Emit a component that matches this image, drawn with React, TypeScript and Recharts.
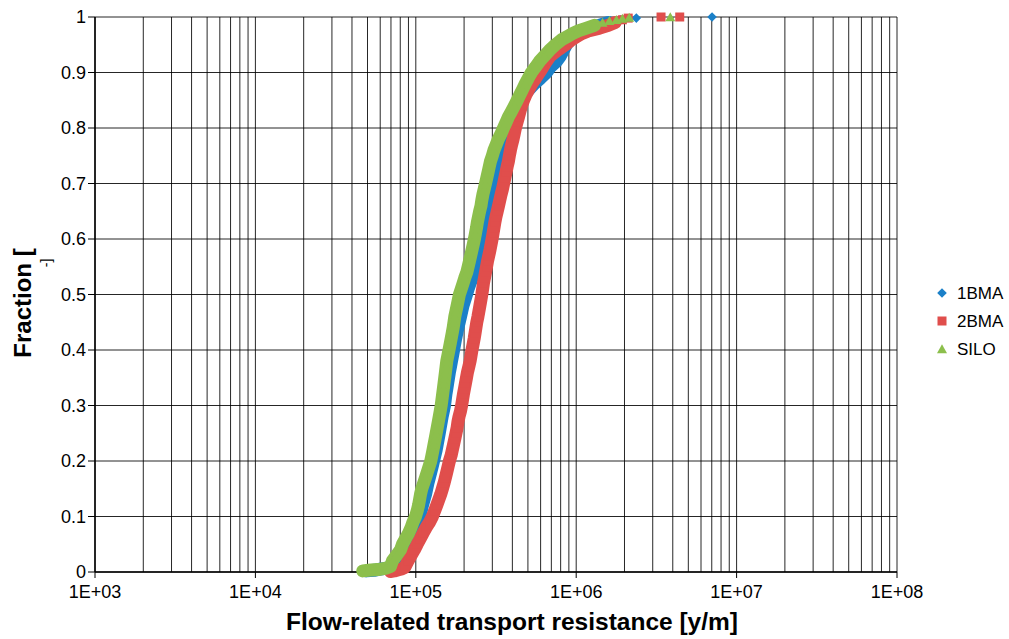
import { ScatterChart, Scatter, XAxis, YAxis, CartesianGrid, Legend, Label } from 'recharts';

// cumulative distributions, [resistance (y/m), fraction]
const BMA1: [number, number][] = [
  [4.92e4, 0.002], [5.5e4, 0.003], [6.0e4, 0.005], [6.6e4, 0.007], [7.15e4, 0.01], [7.58e4, 0.02], [8.03e4, 0.03],
  [8.38e4, 0.04], [8.75e4, 0.05], [9.14e4, 0.06], [9.47e4, 0.07], [9.81e4, 0.08], [1.017e5, 0.09], [1.055e5, 0.1],
  [1.08e5, 0.11], [1.1e5, 0.12], [1.125e5, 0.13], [1.15e5, 0.14], [1.17e5, 0.15], [1.19e5, 0.16], [1.215e5, 0.17],
  [1.24e5, 0.18], [1.265e5, 0.19], [1.29e5, 0.2], [1.315e5, 0.21], [1.34e5, 0.22], [1.36e5, 0.23], [1.38e5, 0.24],
  [1.4e5, 0.25], [1.42e5, 0.26], [1.44e5, 0.27], [1.46e5, 0.28], [1.485e5, 0.29], [1.51e5, 0.3], [1.525e5, 0.31],
  [1.54e5, 0.32], [1.56e5, 0.33], [1.58e5, 0.34], [1.6e5, 0.35], [1.62e5, 0.36], [1.645e5, 0.37], [1.67e5, 0.38],
  [1.695e5, 0.39], [1.72e5, 0.4], [1.745e5, 0.41], [1.77e5, 0.42], [1.8e5, 0.43], [1.83e5, 0.44], [1.865e5, 0.45],
  [1.9e5, 0.46], [1.935e5, 0.47], [1.97e5, 0.48], [2.02e5, 0.49], [2.07e5, 0.5], [2.12e5, 0.51], [2.18e5, 0.52],
  [2.25e5, 0.53], [2.32e5, 0.54], [2.37e5, 0.55], [2.42e5, 0.56], [2.465e5, 0.57], [2.51e5, 0.58], [2.55e5, 0.59],
  [2.59e5, 0.6], [2.625e5, 0.61], [2.66e5, 0.62], [2.71e5, 0.63], [2.76e5, 0.64], [2.8e5, 0.65], [2.84e5, 0.66],
  [2.89e5, 0.67], [2.94e5, 0.68], [3.0e5, 0.69], [3.06e5, 0.7], [3.12e5, 0.71], [3.18e5, 0.72], [3.25e5, 0.73],
  [3.32e5, 0.74], [3.38e5, 0.75], [3.44e5, 0.76], [3.5e5, 0.77], [3.57e5, 0.78], [3.65e5, 0.79], [3.73e5, 0.8],
  [3.84e5, 0.81], [3.95e5, 0.82], [4.09e5, 0.83], [4.24e5, 0.84], [4.48e5, 0.85], [4.75e5, 0.86], [5.1e5, 0.87],
  [5.49e5, 0.88], [6.0e5, 0.89], [6.52e5, 0.9], [6.9e5, 0.91], [7.53e5, 0.92], [7.98e5, 0.93], [8.32e5, 0.94],
  [8.69e5, 0.95], [9.2e5, 0.96], [1.03e6, 0.97], [1.12e6, 0.975], [1.22e6, 0.98], [1.4e6, 0.985], [1.59e6, 0.99],
];
const BMA1_TOP: [number, number][] = [[1.88e6, 0.995], [2.37e6, 0.998], [7.03e6, 1.0]];

const BMA2: [number, number][] = [
  [6.95e4, 0.001], [7.36e4, 0.002], [7.8e4, 0.004], [8.26e4, 0.006], [8.5e4, 0.008], [8.6e4, 0.01], [8.95e4, 0.02],
  [9.35e4, 0.03], [9.8e4, 0.04], [1.02e5, 0.05], [1.065e5, 0.06], [1.11e5, 0.07], [1.16e5, 0.08], [1.22e5, 0.09],
  [1.27e5, 0.1], [1.31e5, 0.11], [1.35e5, 0.12], [1.39e5, 0.13], [1.43e5, 0.14], [1.465e5, 0.15], [1.5e5, 0.16],
  [1.53e5, 0.17], [1.56e5, 0.18], [1.59e5, 0.19], [1.62e5, 0.2], [1.66e5, 0.21], [1.69e5, 0.22], [1.72e5, 0.23],
  [1.75e5, 0.24], [1.78e5, 0.25], [1.81e5, 0.26], [1.83e5, 0.27], [1.86e5, 0.28], [1.9e5, 0.29], [1.93e5, 0.3],
  [1.955e5, 0.31], [1.98e5, 0.32], [2.01e5, 0.33], [2.04e5, 0.34], [2.07e5, 0.35], [2.1e5, 0.36], [2.14e5, 0.37],
  [2.18e5, 0.38], [2.21e5, 0.39], [2.24e5, 0.4], [2.275e5, 0.41], [2.31e5, 0.42], [2.34e5, 0.43], [2.37e5, 0.44],
  [2.4e5, 0.45], [2.44e5, 0.46], [2.475e5, 0.47], [2.51e5, 0.48], [2.545e5, 0.49], [2.58e5, 0.5], [2.61e5, 0.51],
  [2.64e5, 0.52], [2.68e5, 0.53], [2.72e5, 0.54], [2.76e5, 0.55], [2.8e5, 0.56], [2.85e5, 0.57], [2.9e5, 0.58],
  [2.945e5, 0.59], [2.99e5, 0.6], [3.03e5, 0.61], [3.07e5, 0.62], [3.11e5, 0.63], [3.16e5, 0.64], [3.22e5, 0.65],
  [3.28e5, 0.66], [3.34e5, 0.67], [3.4e5, 0.68], [3.47e5, 0.69], [3.53e5, 0.7], [3.59e5, 0.71], [3.65e5, 0.72],
  [3.71e5, 0.73], [3.78e5, 0.74], [3.83e5, 0.75], [3.89e5, 0.76], [3.96e5, 0.77], [4.04e5, 0.78], [4.11e5, 0.79],
  [4.18e5, 0.8], [4.27e5, 0.81], [4.37e5, 0.82], [4.46e5, 0.83], [4.56e5, 0.84], [4.7e5, 0.85], [4.86e5, 0.86],
  [5.07e5, 0.87], [5.3e5, 0.88], [5.6e5, 0.89], [5.9e5, 0.9], [6.2e5, 0.91], [6.52e5, 0.92], [6.9e5, 0.93],
  [7.63e5, 0.94], [8.1e5, 0.945], [8.57e5, 0.95], [9.0e5, 0.955], [9.47e5, 0.96], [1.01e6, 0.965], [1.08e6, 0.97],
  [1.19e6, 0.975], [1.4e6, 0.98], [1.59e6, 0.985], [1.75e6, 0.99],
];
const BMA2_TOP: [number, number][] = [[1.94e6, 0.995], [2.11e6, 0.998], [3.38e6, 1.0], [4.42e6, 1.0]];

const SILO: [number, number][] = [
  [4.67e4, 0.002], [5.07e4, 0.003], [5.53e4, 0.004], [6.03e4, 0.005], [6.56e4, 0.007], [6.95e4, 0.01], [7.15e4, 0.02],
  [7.58e4, 0.03], [8.03e4, 0.04], [8.26e4, 0.05], [8.63e4, 0.06], [9.02e4, 0.07], [9.34e4, 0.08], [9.61e4, 0.09],
  [9.96e4, 0.1], [1.02e5, 0.11], [1.04e5, 0.12], [1.055e5, 0.13], [1.07e5, 0.14], [1.09e5, 0.15], [1.12e5, 0.16],
  [1.15e5, 0.17], [1.18e5, 0.18], [1.21e5, 0.19], [1.24e5, 0.2], [1.26e5, 0.21], [1.28e5, 0.22], [1.3e5, 0.23],
  [1.32e5, 0.24], [1.34e5, 0.25], [1.36e5, 0.26], [1.38e5, 0.27], [1.4e5, 0.28], [1.42e5, 0.29], [1.44e5, 0.3],
  [1.455e5, 0.31], [1.47e5, 0.32], [1.485e5, 0.33], [1.5e5, 0.34], [1.515e5, 0.35], [1.53e5, 0.36], [1.545e5, 0.37],
  [1.56e5, 0.38], [1.585e5, 0.39], [1.61e5, 0.4], [1.635e5, 0.41], [1.66e5, 0.42], [1.685e5, 0.43], [1.71e5, 0.44],
  [1.73e5, 0.45], [1.75e5, 0.46], [1.78e5, 0.47], [1.81e5, 0.48], [1.84e5, 0.49], [1.87e5, 0.5], [1.92e5, 0.51],
  [1.97e5, 0.52], [2.02e5, 0.53], [2.08e5, 0.54], [2.12e5, 0.55], [2.16e5, 0.56], [2.2e5, 0.57], [2.24e5, 0.58],
  [2.28e5, 0.59], [2.32e5, 0.6], [2.355e5, 0.61], [2.39e5, 0.62], [2.42e5, 0.63], [2.46e5, 0.64], [2.5e5, 0.65],
  [2.55e5, 0.66], [2.58e5, 0.67], [2.62e5, 0.68], [2.67e5, 0.69], [2.72e5, 0.7], [2.77e5, 0.71], [2.82e5, 0.72],
  [2.87e5, 0.73], [2.92e5, 0.74], [3.0e5, 0.75], [3.07e5, 0.76], [3.17e5, 0.77], [3.27e5, 0.78], [3.4e5, 0.79],
  [3.52e5, 0.8], [3.65e5, 0.81], [3.78e5, 0.82], [3.95e5, 0.83], [4.12e5, 0.84], [4.29e5, 0.85], [4.46e5, 0.86],
  [4.64e5, 0.87], [4.82e5, 0.88], [5.03e5, 0.89], [5.26e5, 0.9], [5.58e5, 0.91], [5.9e5, 0.92], [6.34e5, 0.93],
  [6.81e5, 0.94], [7.42e5, 0.95], [8.2e5, 0.96], [8.82e5, 0.965], [9.47e5, 0.97], [1.03e6, 0.975], [1.16e6, 0.98],
  [1.3e6, 0.985],
];
const SILO_TOP: [number, number][] = [
  [1.46e6, 0.99], [1.61e6, 0.993], [1.78e6, 0.995], [1.94e6, 0.997], [2.14e6, 0.999], [3.86e6, 1.0],
];

const MAJOR_X = [1e3, 1e4, 1e5, 1e6, 1e7, 1e8];
const MAJOR_X_LABELS = ['1E+03', '1E+04', '1E+05', '1E+06', '1E+07', '1E+08'];
const MINOR_STEPS = [2, 3, 4, 5, 6, 7, 8, 9];
const Y_TICKS = [0, 0.1, 0.2, 0.3, 0.4, 0.5, 0.6, 0.7, 0.8, 0.9, 1];

const BLUE = '#1b80c8';
const RED = '#e04e4c';
const GREEN = '#8cbf4c';
const FONT = '"Liberation Sans", Arial, sans-serif';

const xTicks = MAJOR_X.flatMap((d, i) => (i < MAJOR_X.length - 1 ? [d, ...MINOR_STEPS.map((m) => d * m)] : [d]));
const toPts = (arr: [number, number][]) => arr.map(([x, y]) => ({ x, y }));
// dense marker runs are drawn as a thick band behind the symbols
const band = (color: string) => ({ stroke: color, strokeWidth: 13, strokeLinecap: 'round', strokeLinejoin: 'round' });

const Diamond = ({ cx, cy, fill }: any) => (
  <path d={`M${cx},${cy - 4.8}L${cx + 4.8},${cy}L${cx},${cy + 4.8}L${cx - 4.8},${cy}Z`} fill={fill} />
);
const Square = ({ cx, cy, fill }: any) => <rect x={cx - 4.5} y={cy - 4.5} width={9} height={9} fill={fill} />;
const Triangle = ({ cx, cy, fill }: any) => (
  <path d={`M${cx},${cy - 4.8}L${cx + 5},${cy + 4.2}L${cx - 5},${cy + 4.2}Z`} fill={fill} />
);

const XTick = ({ x, y, payload }: any) => {
  const i = MAJOR_X.indexOf(payload.value);
  if (i < 0) return null;
  return (
    <g>
      <line x1={x} y1={y} x2={x} y2={y + 6} stroke="#000" />
      <text x={x} y={y + 26} textAnchor="middle" fontSize={18} fontFamily={FONT} fill="#000">
        {MAJOR_X_LABELS[i]}
      </text>
    </g>
  );
};

const YTick = ({ x, y, payload }: any) => (
  <g>
    <line x1={x - 7} y1={y} x2={x} y2={y} stroke="#000" />
    <text x={x - 9} y={y + 6} textAnchor="end" fontSize={18} fontFamily={FONT} fill="#000">
      {payload.value}
    </text>
  </g>
);

const renderLegend = () => {
  const items = [
    { name: '1BMA', color: BLUE, Shape: Diamond },
    { name: '2BMA', color: RED, Shape: Square },
    { name: 'SILO', color: GREEN, Shape: Triangle },
  ];
  return (
    <svg width={80} height={84}>
      {items.map((it, i) => (
        <g key={it.name}>
          <it.Shape cx={9} cy={11 + i * 28} fill={it.color} />
          <text x={24} y={17 + i * 28} fontSize={17} fontFamily={FONT} fill="#000">
            {it.name}
          </text>
        </g>
      ))}
    </svg>
  );
};

export default function App() {
  return (
    <div style={{ width: 1009, height: 639, background: '#fff' }}>
      <style>{'body{margin:0}'}</style>
      <ScatterChart width={1009} height={639} margin={{ top: 17, right: 112, bottom: 0, left: 0 }}>
        <CartesianGrid stroke="#000" strokeOpacity={0.85} />
        <XAxis
          dataKey="x"
          type="number"
          scale="log"
          domain={[1e3, 1e8]}
          ticks={xTicks}
          interval={0}
          allowDataOverflow
          height={67}
          tickSize={0}
          tickMargin={0}
          tickLine={false}
          tick={<XTick />}
          axisLine={{ stroke: '#000', strokeWidth: 1.5 }}
        >
          <Label
            content={({ viewBox }: any) => (
              <text
                x={viewBox.x + viewBox.width / 2 + 16}
                y={630}
                textAnchor="middle"
                fontSize={24.5}
                fontWeight="bold"
                fontFamily={FONT}
                fill="#000"
              >
                Flow-related transport resistance [y/m]
              </text>
            )}
          />
        </XAxis>
        <YAxis
          dataKey="y"
          type="number"
          domain={[0, 1]}
          ticks={Y_TICKS}
          interval={0}
          width={95}
          tickSize={0}
          tickMargin={0}
          tickLine={false}
          tick={<YTick />}
          axisLine={{ stroke: '#000', strokeWidth: 1.5 }}
        >
          <Label
            content={() => (
              <g>
                <text
                  transform="translate(31,303) rotate(-90)"
                  textAnchor="middle"
                  fontSize={24}
                  fontWeight="bold"
                  fontFamily={FONT}
                  fill="#000"
                >
                  Fraction [
                </text>
                <text
                  transform="translate(51,263) rotate(-90)"
                  textAnchor="middle"
                  fontSize={14}
                  fontFamily={FONT}
                  fill="#000"
                >
                  -]
                </text>
              </g>
            )}
          />
        </YAxis>
        <Legend
          layout="vertical"
          align="center"
          verticalAlign="middle"
          wrapperStyle={{ left: 933, top: 282, width: 80 }}
          content={renderLegend}
        />
        <Scatter name="1BMA" data={toPts(BMA1)} fill={BLUE} shape={Diamond} line={band(BLUE)} isAnimationActive={false} />
        <Scatter name="1BMA top" data={toPts(BMA1_TOP)} fill={BLUE} shape={Diamond} legendType="none" isAnimationActive={false} />
        <Scatter name="2BMA" data={toPts(BMA2)} fill={RED} shape={Square} line={band(RED)} isAnimationActive={false} />
        <Scatter name="2BMA top" data={toPts(BMA2_TOP)} fill={RED} shape={Square} legendType="none" isAnimationActive={false} />
        <Scatter name="SILO" data={toPts(SILO)} fill={GREEN} shape={Triangle} line={band(GREEN)} isAnimationActive={false} />
        <Scatter name="SILO top" data={toPts(SILO_TOP)} fill={GREEN} shape={Triangle} legendType="none" isAnimationActive={false} />
      </ScatterChart>
    </div>
  );
}
